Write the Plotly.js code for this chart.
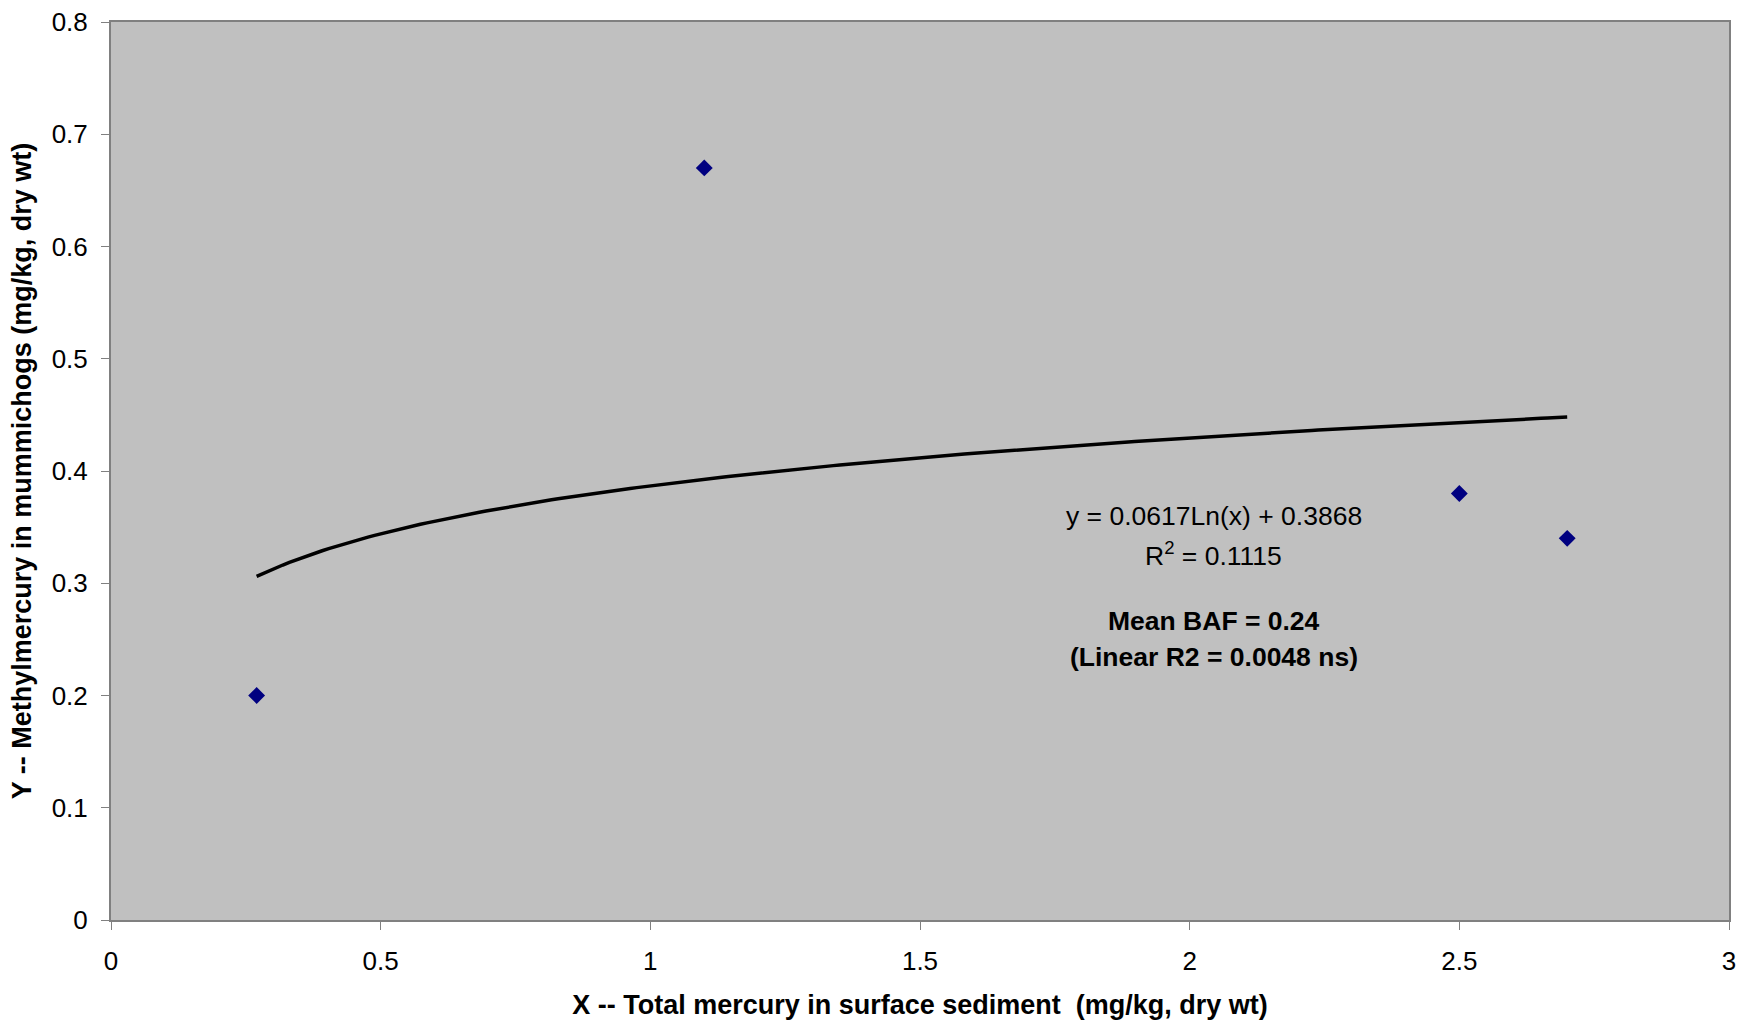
<!DOCTYPE html>
<html>
<head>
<meta charset="utf-8">
<script src="https://cdn.plot.ly/plotly-3.0.1.min.js"></script>
<style>
  html, body { margin: 0; padding: 0; background: #ffffff; }
  #chart { width: 1740px; height: 1022px; }
</style>
</head>
<body>
<div id="chart"></div>
<script>
// Data
var sedimentHg = [0.27, 1.1, 2.5, 2.7];        // X: total mercury in surface sediment (mg/kg, dry wt)
var mummichogMeHg = [0.20, 0.67, 0.38, 0.34];   // Y: methylmercury in mummichogs (mg/kg, dry wt)

var xTickVals = [0, 0.5, 1, 1.5, 2, 2.5, 3];
var xTickText = ["0", "0.5", "1", "1.5", "2", "2.5", "3"];
var yTickVals = [0, 0.1, 0.2, 0.3, 0.4, 0.5, 0.6, 0.7, 0.8];
var yTickText = ["0", "0.1", "0.2", "0.3", "0.4", "0.5", "0.6", "0.7", "0.8"];

var eqText = ["y = 0.0617Ln(x) + 0.3868", "R<sup>2</sup> = 0.1115"];
var bafText = ["<b>Mean BAF = 0.24</b>", "<b>(Linear R2 = 0.0048 ns)</b>"];

var xTitle = "<b>X -- Total mercury in surface sediment  (mg/kg, dry wt)</b>";
var yTitle = "<b>Y -- Methylmercury in mummichogs (mg/kg, dry wt)</b>";

// Logarithmic trendline (least squares fit of y on ln(x)), as in the spreadsheet trendline
function logFit(xs, ys) {
  var n = xs.length, lx = xs.map(Math.log);
  var mx = lx.reduce(function(a, b) { return a + b; }, 0) / n;
  var my = ys.reduce(function(a, b) { return a + b; }, 0) / n;
  var sxx = 0, sxy = 0;
  for (var i = 0; i < n; i++) { sxx += (lx[i] - mx) * (lx[i] - mx); sxy += (lx[i] - mx) * (ys[i] - my); }
  var b = sxy / sxx;
  return { slope: b, intercept: my - b * mx };
}
var fit = logFit(sedimentHg, mummichogMeHg);
var xMin = Math.min.apply(null, sedimentHg), xMax = Math.max.apply(null, sedimentHg);
var trendX = [], trendY = [];
for (var k = 0; k <= 200; k++) {
  var xv = xMin + (xMax - xMin) * k / 200;
  trendX.push(xv);
  trendY.push(fit.slope * Math.log(xv) + fit.intercept);
}

var FONT = "Liberation Sans, Arial, Helvetica, sans-serif";

var traces = [
  {
    x: trendX, y: trendY, type: "scatter", mode: "lines",
    line: { color: "#000000", width: 3.5 },
    hoverinfo: "skip", showlegend: false
  },
  {
    x: sedimentHg, y: mummichogMeHg, type: "scatter", mode: "markers",
    marker: { symbol: "diamond", size: 13, color: "#000080", line: { width: 0 } },
    showlegend: false
  }
];

var annX = 2.045;
var annotations = [
  { x: annX, y: 0.3595, text: eqText[0] },
  { x: annX, y: 0.3262, text: eqText[1] },
  { x: annX, y: 0.2664, text: bafText[0] },
  { x: annX, y: 0.2343, text: bafText[1] }
].map(function(a) {
  return {
    x: a.x, y: a.y, xref: "x", yref: "y", text: a.text, showarrow: false,
    xanchor: "center", yanchor: "middle",
    font: { family: FONT, size: 26.5, color: "#000000" }
  };
});

var layout = {
  width: 1740, height: 1022,
  margin: { l: 111, r: 11, t: 22, b: 102, pad: 0 },
  paper_bgcolor: "#ffffff",
  plot_bgcolor: "#c0c0c0",
  showlegend: false,
  font: { family: FONT, size: 26, color: "#000000" },
  xaxis: {
    range: [0, 3],
    tickmode: "array", tickvals: xTickVals, ticktext: xTickText,
    ticks: "outside", ticklen: 8, tickwidth: 1, tickcolor: "#808080",
    showgrid: false, zeroline: false,
    showline: true, linecolor: "#808080", linewidth: 2, mirror: true,
    tickfont: { family: FONT, size: 26, color: "#000000" },
    ticklabelstandoff: 9,
    title: { text: xTitle, font: { family: FONT, size: 27, color: "#000000" }, standoff: 20 }
  },
  yaxis: {
    range: [0, 0.8],
    tickmode: "array", tickvals: yTickVals, ticktext: yTickText,
    ticks: "outside", ticklen: 8, tickwidth: 1, tickcolor: "#808080",
    showgrid: false, zeroline: false,
    showline: true, linecolor: "#808080", linewidth: 2, mirror: true,
    tickfont: { family: FONT, size: 26, color: "#000000" },
    ticklabelstandoff: 8,
    title: { text: yTitle, font: { family: FONT, size: 27, color: "#000000" }, standoff: 12 }
  },
  annotations: annotations
};

Plotly.newPlot("chart", traces, layout, { displayModeBar: false, staticPlot: true });
</script>
</body>
</html>
